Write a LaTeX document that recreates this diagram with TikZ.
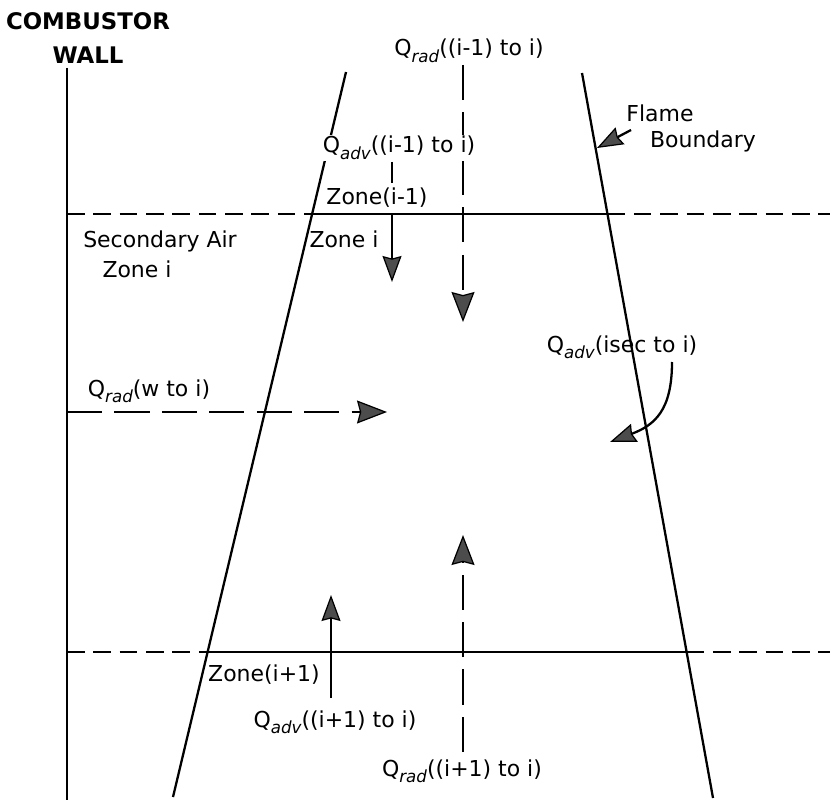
\documentclass[tikz,border=0pt]{standalone}
\usepackage{fontspec}
\setmainfont{DejaVu Sans}
\usetikzlibrary{arrows.meta}
\newcommand{\Qsub}[1]{Q\raisebox{-0.5ex}{\fontsize{9.5}{10}\selectfont\itshape #1}}
\newcommand{\Qr}{\Qsub{rad}}
\newcommand{\Qa}{\Qsub{adv}}

\begin{document}
\begin{tikzpicture}[x=0.02cm,y=-0.02cm, every node/.style={font=\fontsize{12.5}{15}\selectfont,inner sep=1pt}, lbl/.style={anchor=base}, edge/.style={line width=1.3pt}, zonedash/.style={line width=1.1pt,dash pattern=on 10pt off 5pt}, raddash/.style={line width=1.3pt,dash pattern=on 20pt off 7pt,-{Stealth[length=6mm,width=4.6mm,inset=0.6mm,fill=black!70,line width=0.7pt]}}, advflow/.style={line width=1.3pt,-{Stealth[length=5.2mm,width=3.8mm,inset=0.5mm,fill=black!70,line width=0.7pt]}}]
\useasboundingbox (0,0) rectangle (830,800);
\coordinate (wallT) at (67,68); \coordinate (wallB) at (67,800);
\coordinate (leftT) at (346,72); \coordinate (leftB) at (173,797);
\coordinate (rightT) at (582,73); \coordinate (rightB) at (713,798);
\draw[edge] (wallT) -- (wallB);
\draw[edge] (leftT) -- (leftB);
\draw[edge] (rightT) -- (rightB);
\coordinate (upW) at (67,214); \coordinate (upL) at (312,214); \coordinate (upR) at (607.5,214); \coordinate (upE) at (830,214);
\coordinate (loW) at (67,652); \coordinate (loL) at (207.6,652); \coordinate (loR) at (686.6,652); \coordinate (loE) at (830,652);
\draw[zonedash] (upW) -- (upL) (upR) -- (upE) (loW) -- (loL) (loR) -- (loE);
\draw[edge] (upL) -- (upR) (loL) -- (loR);
\node[align=center,font=\fontsize{13}{19.3}\selectfont\bfseries] (wall) at (88,38) {COMBUSTOR\\WALL};
\node[lbl] (flame) at (660,122) {Flame};
\node[lbl] (bound) at (703,148) {Boundary};
\coordinate (flameTail) at (631,130); \coordinate (flameTip) at (597,148);
\draw[advflow] (flameTail) -- (flameTip);
\node[lbl] (qradTop) at (469,56) {\Qr((i-1) to i)};
\coordinate (cTop) at (463,65); \coordinate (cTip) at (463,322);
\draw[raddash] (cTop) -- (cTip);
\node[lbl,fill=white] (qadvTop) at (399,153) {\Qa((i-1) to i)};
\coordinate (advTail) at (392,162); \coordinate (advTip) at (392,282);
\draw[advflow] (advTail) -- (advTip);
\node[lbl,fill=white,inner sep=3pt] (zoneUp) at (377,205) {Zone(i-1)};
\node[lbl] (zoneI) at (344,247) {Zone i};
\node[lbl] (secAir) at (160,247) {Secondary Air};
\node[lbl] (secZone) at (137,277) {Zone i};
\node[lbl] (qradW) at (149,396) {\Qr(w to i)};
\coordinate (wallMid) at (67,412); \coordinate (wTip) at (387,412);
\draw[raddash] (wallMid) -- (wTip);
\node[lbl] (qadvSec) at (622,352) {\Qa(isec to i)};
\coordinate (secTail) at (672,362); \coordinate (secTip) at (610,442);
\draw[advflow] (secTail) .. controls (672,410) and (655,425) .. (secTip);
\coordinate (cBot) at (463,752); \coordinate (cUp) at (463,535);
\draw[raddash] (cBot) -- (cUp);
\node[lbl] (qradBot) at (462,776) {\Qr((i+1) to i)};
\coordinate (lowTail) at (331,698); \coordinate (lowTip) at (331,595);
\draw[advflow] (lowTail) -- (lowTip);
\node[lbl] (zoneLo) at (264,681) {Zone(i+1)};
\node[lbl] (qadvBot) at (335,727) {\Qa((i+1) to i)};
\end{tikzpicture}
\end{document}
